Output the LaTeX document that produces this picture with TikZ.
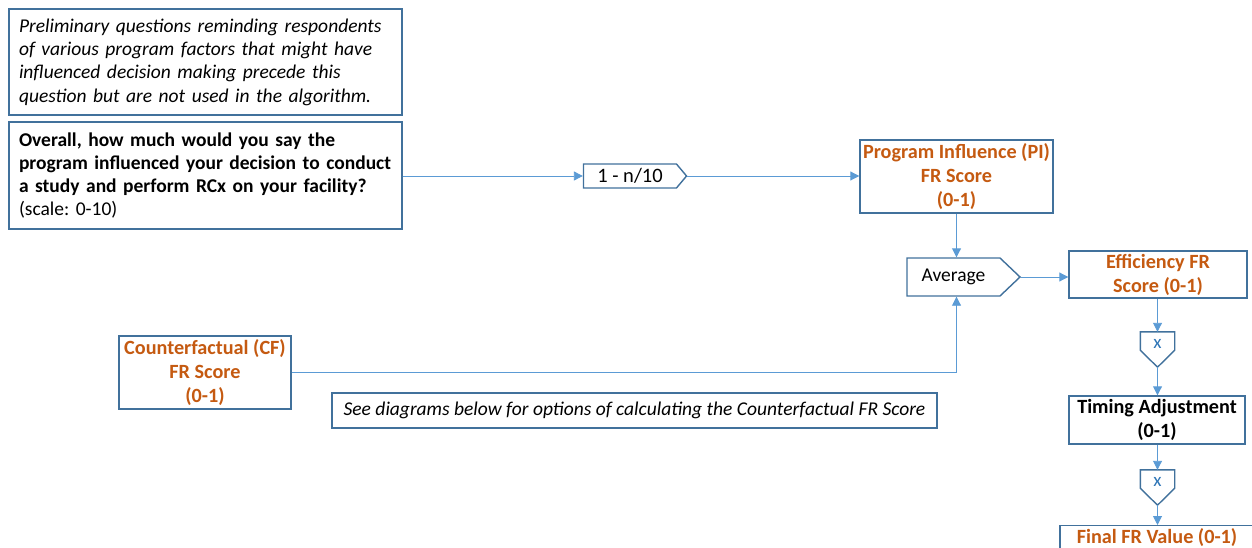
\documentclass[tikz,border=0pt]{standalone}
\usepackage{fontspec}
\setmainfont{Carlito}
\frenchspacing
\usetikzlibrary{positioning}
\usetikzlibrary{shapes.symbols}
\usetikzlibrary{arrows.meta}
\usepackage{tikz}

\definecolor{boxline}{HTML}{41719C}
\definecolor{flowline}{HTML}{5B9BD5}
\definecolor{scoretext}{HTML}{C55A11}
\definecolor{multtext}{HTML}{2E75B6}

\tikzset{
  box/.style={draw=boxline, line width=1.4pt, fill=white, inner sep=0pt, font=\fontsize{19.5}{23.3}\selectfont},
  scorebox/.style={box, text=scoretext, align=center, font=\fontsize{20.2}{24}\selectfont\bfseries},
  calcbox/.style={box, signal, signal to=east, signal from=nowhere, align=center},
  multbox/.style={inner sep=0pt, minimum width=34pt, minimum height=18pt, text height=14pt, text depth=0pt, text=multtext, font=\fontsize{19}{19}\selectfont},
  multline/.style={draw=boxline, line width=1.4pt, line join=miter},
  flow/.style={draw=flowline, line width=0.9pt, -{Triangle[length=9pt,width=9pt]}}
}

\begin{document}
\begin{tikzpicture}[x=1pt, y=-1pt]
\useasboundingbox (0,0) rectangle (1252,548);

\node[box, minimum width=393pt, minimum height=106pt, text width=373pt, align=left] (prelim) at (205.5,62)
  {\itshape Preliminary questions reminding respondents\\of various program factors that might have\\influenced decision making precede this\\question but are not used in the algorithm.};
\node[box, minimum width=393pt, minimum height=107pt, text width=373pt, align=left] (question) at (205.5,175.5)
  {\textbf{Overall, how much would you say the}\\\textbf{program influenced your decision to conduct}\\\textbf{a study and perform RCx on your facility?}\\(scale: 0-10)};

\node[calcbox, minimum width=103pt, minimum height=24pt, signal pointer angle=100, font=\fontsize{20.5}{22}\selectfont] (invert) at (630,176) {1 - n/10};
\node[scorebox, minimum width=193pt, minimum height=73pt] (pi) at (956.5,176.5)
  {Program Influence (PI)\\FR Score\\(0-1)};

\node[calcbox, minimum width=113pt, minimum height=38pt, signal pointer angle=87] (avg) at (953.5,277) {Average};
\node[scorebox, minimum width=178pt, minimum height=47pt] (eff) at (1158,274.5)
  {Efficiency FR\\Score (0-1)};

\node[scorebox, minimum width=172pt, minimum height=73pt] (cf) at (205,372.5)
  {Counterfactual (CF)\\FR Score\\(0-1)};
\node[box, minimum width=605pt, minimum height=35pt] (note) at (634.5,410.5)
  {\itshape See diagrams below for options of calculating the Counterfactual FR Score};

% multiply steps, drawn as downward pentagons
\node[multbox] (mult1) at (1157.5,341) {x};
\coordinate (mult1tip) at ([yshift=-17pt]mult1.south);
\draw[multline] (mult1.north west) -- (mult1.north east) -- (mult1.south east) -- (mult1tip) -- (mult1.south west) -- cycle;

\node[scorebox, text=black, minimum width=176pt, minimum height=48pt] (timing) at (1157,420)
  {Timing Adjustment\\(0-1)};

\node[multbox] (mult2) at (1157.5,479) {x};
\coordinate (mult2tip) at ([yshift=-17pt]mult2.south);
\draw[multline] (mult2.north west) -- (mult2.north east) -- (mult2.south east) -- (mult2tip) -- (mult2.south west) -- cycle;

\node[scorebox, anchor=north, minimum width=194pt, minimum height=34pt, text depth=14pt] (final) at (1157,525)
  {Final FR Value (0-1)};

\draw[flow] (question.east |- invert.west) -- (invert.west);
\draw[flow] (invert.east) -- (pi.west |- invert.east);
\draw[flow] (pi.south) -- (pi.south |- avg.north);
\draw[flow] (avg.east) -- (eff.west |- avg.east);
\draw[flow] (cf.east) -| (pi.south |- avg.south);
\draw[flow] (mult1.north |- eff.south) -- (mult1.north);
\draw[flow] (mult1tip) -- (mult1tip |- timing.north);
\draw[flow] (mult2.north |- timing.south) -- (mult2.north);
\draw[flow] (mult2tip) -- (mult2tip |- final.north);

\end{tikzpicture}
\end{document}
